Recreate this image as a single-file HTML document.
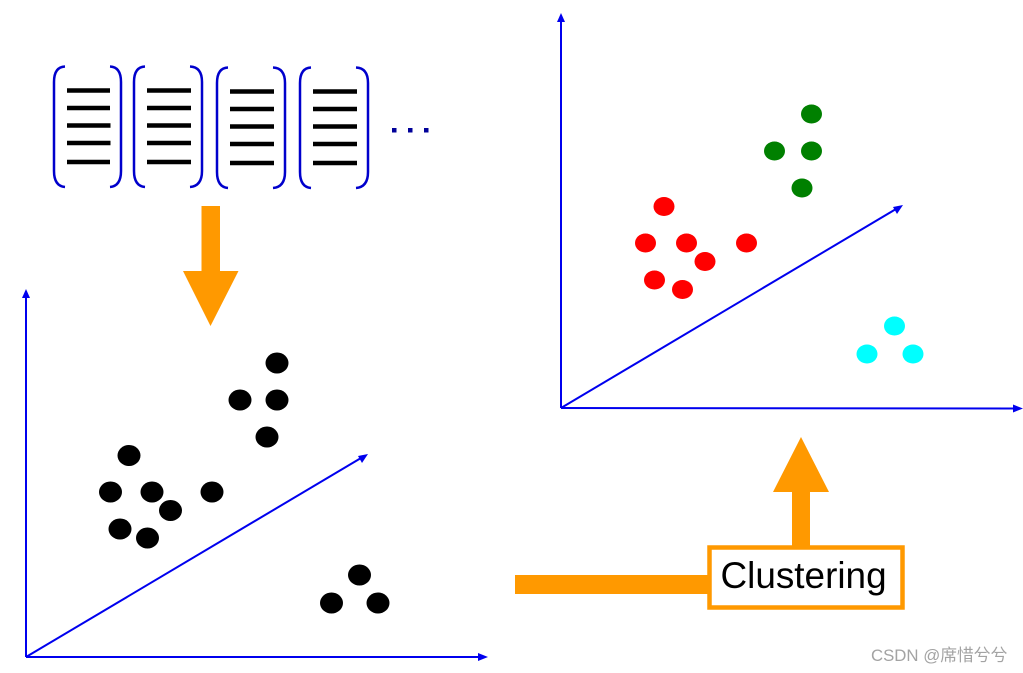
<!DOCTYPE html>
<html><head><meta charset="utf-8"><style>html,body{margin:0;padding:0;background:#fff;width:1023px;height:673px;overflow:hidden}svg{display:block}</style></head>
<body>
<svg width="1023" height="673" viewBox="0 0 1023 673" xmlns="http://www.w3.org/2000/svg">
<g fill="none" stroke="#0000cc" stroke-width="2.500">
<path d="M65 66.500 Q54 67 54 82 V171 Q54 186 65 187"/>
<path d="M110 66.500 Q121 67 121 82 V171 Q121 186 110 187"/>
<path d="M145 66.500 Q134 67 134 82 V171 Q134 186 145 187"/>
<path d="M190 66.500 Q202 67 202 82 V171 Q202 186 190 187"/>
<path d="M228 67.500 Q217 68 217 83 V172 Q217 187 228 188"/>
<path d="M273 67.500 Q285 68 285 83 V172 Q285 187 273 188"/>
<path d="M311 67.500 Q300 68 300 83 V172 Q300 187 311 188"/>
<path d="M356 67.500 Q368 68 368 83 V172 Q368 187 356 188"/>
</g>
<g stroke="#000" stroke-width="4.500" fill="none">
<path d="M67 90.500 H110M67 108 H110M67 125.500 H110.500M67 143 H110.500M67 162 H110"/>
<path d="M147 90.500 H191M147 108 H191M147 125.500 H191M147 143 H191M147 162 H191"/>
<path d="M230 91.500 H274M230 109 H274M230 126.500 H274M230 144 H274M230 163 H274"/>
<path d="M313 91.500 H357M313 109 H357M313 126.500 H357M313 144 H357M313 163 H357"/>
</g>
<g fill="#000099"><rect x="392" y="128" width="4.500" height="4.500"/><rect x="408" y="128" width="4.500" height="4.500"/><rect x="424" y="128" width="4.500" height="4.500"/></g>
<path d="M201.500 206 H220 V271 H238.500 L210.500 326 L183 271 H201.500 Z" fill="#ff9900"/>
<rect x="515" y="575" width="195" height="19" fill="#ff9900"/>
<path d="M792 547 V492 H773 L801 437 L829 492 H810 V547 Z" fill="#ff9900"/>
<rect x="709.500" y="547.500" width="193" height="60" fill="#fff" stroke="#ff9900" stroke-width="4.500"/>
<text x="720.500" y="588" font-family="'Liberation Sans',sans-serif" font-size="36.900" fill="#000">Clustering</text>
<g stroke="#0000ee" stroke-width="2" fill="none">
<path d="M26 657 V296"/><path d="M26 657 H480"/><path d="M26 657 L361 458"/>
<path d="M561 408 V20"/><path d="M561 408 L1015 408.500"/><path d="M561 408 L896 209"/>
</g>
<g fill="#0000ee">
<path d="M26 289 L30 298 H22Z"/><path d="M488 657 L478 653 V661Z"/><path d="M368 454 L358 456 L362 463Z"/>
<path d="M561 13 L565 22 H557Z"/><path d="M1023 408.500 L1013 404.500 V412.500Z"/><path d="M903 205 L893 207 L897 214Z"/>
</g>
<g fill="#000">
<ellipse cx="277" cy="363" rx="11.500" ry="10.500"/><ellipse cx="240" cy="400" rx="11.500" ry="10.500"/><ellipse cx="277" cy="400" rx="11.500" ry="10.500"/><ellipse cx="267" cy="437" rx="11.500" ry="10.500"/>
<ellipse cx="129" cy="455.500" rx="11.500" ry="10.500"/><ellipse cx="110.500" cy="492" rx="11.500" ry="10.500"/><ellipse cx="152" cy="492" rx="11.500" ry="10.500"/><ellipse cx="212" cy="492" rx="11.500" ry="10.500"/><ellipse cx="170.500" cy="510.500" rx="11.500" ry="10.500"/><ellipse cx="120" cy="529" rx="11.500" ry="10.500"/><ellipse cx="147.500" cy="538" rx="11.500" ry="10.500"/>
<ellipse cx="359.500" cy="575" rx="11.500" ry="10.500"/><ellipse cx="331.500" cy="603" rx="11.500" ry="10.500"/><ellipse cx="378" cy="603" rx="11.500" ry="10.500"/>
</g>
<g fill="#008000">
<ellipse cx="811.500" cy="114" rx="10.500" ry="9.500"/><ellipse cx="774.500" cy="151" rx="10.500" ry="9.500"/><ellipse cx="811.500" cy="151" rx="10.500" ry="9.500"/><ellipse cx="802" cy="188" rx="10.500" ry="9.500"/>
</g>
<g fill="#ff0000">
<ellipse cx="664" cy="206.500" rx="10.500" ry="9.500"/><ellipse cx="645.500" cy="243" rx="10.500" ry="9.500"/><ellipse cx="686.500" cy="243" rx="10.500" ry="9.500"/><ellipse cx="746.500" cy="243" rx="10.500" ry="9.500"/><ellipse cx="705" cy="261.500" rx="10.500" ry="9.500"/><ellipse cx="654.500" cy="280" rx="10.500" ry="9.500"/><ellipse cx="682.500" cy="289.500" rx="10.500" ry="9.500"/>
</g>
<g fill="#00ffff">
<ellipse cx="894.500" cy="326" rx="10.500" ry="9.500"/><ellipse cx="867" cy="354" rx="10.500" ry="9.500"/><ellipse cx="913" cy="354" rx="10.500" ry="9.500"/>
</g>
<text x="871" y="661" font-family="'Liberation Sans','Noto Sans CJK SC',sans-serif" font-size="16.800" fill="#a3a3a3">CSDN @席惜兮兮</text>
</svg>
</body></html>
